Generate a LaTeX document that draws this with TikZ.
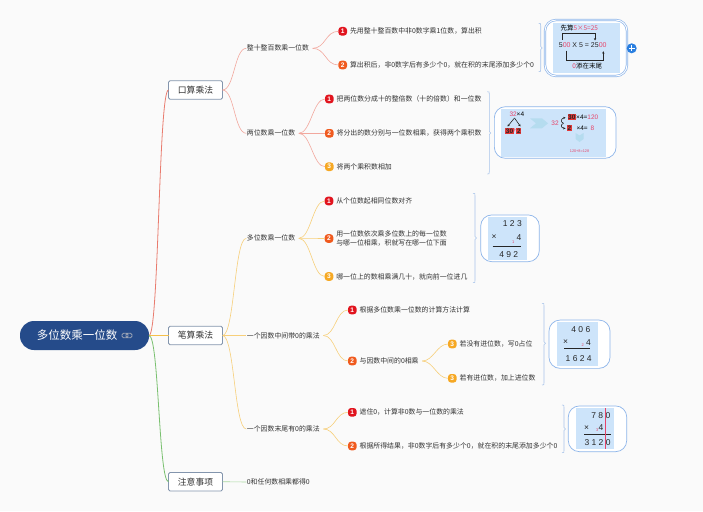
\documentclass[tikz,border=0pt]{standalone}
\usepackage{fontspec}
\setmainfont{Noto Sans CJK SC}
\newfontfamily\numfont{Liberation Sans}
\usetikzlibrary{arrows.meta}
\definecolor{rootblue}{HTML}{254B8A}
\definecolor{txt}{HTML}{333333}
\definecolor{lborder}{HTML}{8395AD}
\definecolor{redA}{HTML}{E97B6E}
\definecolor{redB}{HTML}{F2A89E}
\definecolor{orangeA}{HTML}{F5C04A}
\definecolor{orangeB}{HTML}{F7CF7A}
\definecolor{greenA}{HTML}{79C06F}
\definecolor{greenB}{HTML}{A9D8A0}
\definecolor{bracecol}{HTML}{A8C4EA}
\definecolor{imgborder}{HTML}{8DB5EA}
\definecolor{imgfill}{HTML}{CDE4FA}
\definecolor{pinkred}{HTML}{E6456A}
\definecolor{boxred}{HTML}{E23838}
\definecolor{chev}{HTML}{B5DCEF}
\definecolor{plusblue}{HTML}{2A7FE0}
\definecolor{bone}{HTML}{E1141E}
\definecolor{btwo}{HTML}{F05A1E}
\definecolor{bthree}{HTML}{F6A823}
\definecolor{linkgray}{HTML}{9AA3B5}
\newcommand\cc[4]{\draw[#1] (#2) .. controls +(#4,0) and +(-#4,0) .. (#3);}
\newcommand\itm[6]{%
  \node[badge, fill=#4] (#1) at (#2,#3) {#5};
  \node[lab] (#1t) at ([xshift=2.4pt]#1.east) {#6};}
\newcommand\summbrace[4]{%
  \draw[bracecol, line width=0.6pt] (#1-2,#2) .. controls (#1,#2) .. (#1,#2+2.5) -- (#1,#4-1.5) -- (#1+1.5,#4) -- (#1,#4+1.5) -- (#1,#3-2.5) .. controls (#1,#3) .. (#1-2,#3);}
\begin{document}
\begin{tikzpicture}[x=1pt,y=-1pt,
  every node/.style={inner sep=0pt, outer sep=0pt},
  rootnode/.style={fill=rootblue, rounded corners=14pt, minimum width=129pt, minimum height=29pt, text=white, font=\fontsize{11.5}{13}\selectfont},
  lone/.style={draw=lborder, fill=white, rounded corners=1.5pt, minimum width=54pt, minimum height=18.5pt, line width=0.8pt, text=txt, font=\fontsize{8.8}{10}\selectfont},
  lab/.style={anchor=west, inner sep=0.6pt, text=txt, align=left, font=\fontsize{6.9}{9.8}\selectfont},
  badge/.style={rounded corners=3pt, minimum size=8.6pt, text=white, font=\numfont\bfseries\fontsize{6.6}{7}\selectfont},
  imgbox/.style={draw=imgborder, fill=white, rounded corners=11pt, line width=0.7pt},
  dig/.style={text=black!85, font=\numfont\fontsize{8.5}{9}\selectfont},
  tiny/.style={text=pinkred, font=\numfont\fontsize{4}{4}\selectfont},
  small/.style={font=\fontsize{6.5}{7}\selectfont},
  rbox/.style={fill=boxred, text=black!85, inner sep=0.6pt, font=\numfont\bfseries\fontsize{6.5}{7}\selectfont},
  tip/.style={-{Stealth[length=2.4pt,width=2.4pt]}, line width=0.6pt}
]
\fill[white!98!black] (0,0) rectangle (703,511);
\useasboundingbox (0,0) rectangle (703,511);

% root
\node[rootnode] (root) at (84.5,335.5) {多位数乘一位数\rule{15pt}{0pt}};
\draw[linkgray, line width=0.8pt, rounded corners=1.5pt] (122,333.2) rectangle (128,337.8) (126,333.2) rectangle (132,337.8);

% level 1
\node[lone] (ks) at (195.5,90) {口算乘法};
\node[lone] (bs) at (195.5,335.5) {笔算乘法};
\node[lone] (zy) at (195.5,481.7) {注意事项};

\cc{redA, line width=0.8pt}{root.east}{ks.west}{10}
\draw[orangeA, line width=1.3pt] (root.east) -- (bs.west);
\cc{greenA, line width=0.8pt}{root.east}{zy.west}{10}

% level 2
\node[lab] (zs) at (246.3,48.3) {整十整百数乘一位数};
\node[lab] (lw) at (246.3,133.3) {两位数乘一位数};
\node[lab] (dw) at (246.3,238.3) {多位数乘一位数};
\node[lab] (zj) at (246.3,335.5) {一个因数中间带0的乘法};
\node[lab] (mw) at (246.3,429) {一个因数末尾有0的乘法};
\node[lab] (zyt) at (246.3,482) {0和任何数相乘都得0};

\cc{redB, line width=0.6pt}{ks.east}{zs.west}{12}
\cc{redB, line width=0.6pt}{ks.east}{lw.west}{12}
\cc{orangeB, line width=0.6pt}{bs.east}{dw.west}{12}
\draw[orangeB, line width=0.6pt] (bs.east) -- (zj.west);
\cc{orangeB, line width=0.6pt}{bs.east}{mw.west}{12}
\draw[greenB, line width=0.6pt] (zy.east) -- (zyt.west);

% level 3 items
\itm{ka}{342.7}{31.3}{bone}{1}{先用整十整百数中非0数字乘1位数，算出积}
\itm{kb}{342.7}{65}{btwo}{2}{算出积后，非0数字后有多少个0，就在积的末尾添加多少个0}
\itm{la}{329.3}{99}{bone}{1}{把两位数分成十的整倍数（十的倍数）和一位数}
\itm{lb}{329.3}{133.3}{btwo}{2}{将分出的数分别与一位数相乘，获得两个乘积数}
\itm{lc}{329.3}{166.7}{bthree}{3}{将两个乘积数相加}
\itm{da}{329}{201}{bone}{1}{从个位数起相同位数对齐}
\itm{db}{329}{238.5}{btwo}{2}{用一位数依次乘多位数上的每一位数\\与哪一位相乘，积就写在哪一位下面}
\itm{dc}{329}{276.5}{bthree}{3}{哪一位上的数相乘满几十，就向前一位进几}
\itm{za}{352.3}{310}{bone}{1}{根据多位数乘一位数的计算方法计算}
\itm{zb}{352.3}{361}{btwo}{2}{与因数中间的0相乘}
\itm{zba}{452.3}{344}{bthree}{3}{若没有进位数，写0占位}
\itm{zbb}{452.3}{378.3}{bthree}{3}{若有进位数，加上进位数}
\itm{ma}{352.3}{412.3}{bone}{1}{遮住0，计算非0数与一位数的乘法}
\itm{mb}{352.3}{446}{btwo}{2}{根据所得结果，非0数字后有多少个0，就在积的末尾添加多少个0}

\cc{redB, line width=0.6pt}{[xshift=3pt]zs.east}{ka.west}{13}
\cc{redB, line width=0.6pt}{[xshift=3pt]zs.east}{kb.west}{13}
\cc{redB, line width=0.6pt}{[xshift=3pt]lw.east}{la.west}{12}
\draw[redB, line width=0.6pt] ([xshift=3pt]lw.east) -- (lb.west);
\cc{redB, line width=0.6pt}{[xshift=3pt]lw.east}{lc.west}{12}
\cc{orangeB, line width=0.6pt}{[xshift=3pt]dw.east}{da.west}{12}
\draw[orangeB, line width=0.6pt] ([xshift=3pt]dw.east) -- (db.west);
\cc{orangeB, line width=0.6pt}{[xshift=3pt]dw.east}{dc.west}{12}
\cc{orangeB, line width=0.6pt}{[xshift=3pt]zj.east}{za.west}{12}
\cc{orangeB, line width=0.6pt}{[xshift=3pt]zj.east}{zb.west}{12}
\cc{orangeB, line width=0.6pt}{[xshift=3pt]zbt.east}{zba.west}{11}
\cc{orangeB, line width=0.6pt}{[xshift=3pt]zbt.east}{zbb.west}{11}
\cc{orangeB, line width=0.6pt}{[xshift=3pt]mw.east}{ma.west}{12}
\cc{orangeB, line width=0.6pt}{[xshift=3pt]mw.east}{mb.west}{12}

% summary braces
\summbrace{540.7}{23.3}{71.7}{48}
\summbrace{489.3}{91.7}{174}{133}
\summbrace{475}{193.3}{282.7}{238}
\summbrace{544}{303.3}{385}{343.3}
\summbrace{564}{405}{452.7}{429}

% image 1
\node[imgbox, double=white, double distance=0.9pt, minimum width=82pt, minimum height=56pt] (im1) at (586,48) {};
\fill[imgfill] (553,22.8) rectangle (620,73.3);
\node[small, anchor=west] (im1a) at (560.5,28.3) {先算\textcolor{pinkred}{5×5=25}};
\draw[tip, black!85] (562.3,40) -- (562.3,33.5) -- (595,33.5) -- (595,40.5);
\node[text=black!85, font=\numfont\fontsize{7}{8}\selectfont] (im1b) at (582.7,45.3) {5\textcolor{pinkred}{00} X 5 = 25\textcolor{pinkred}{00}};
\draw[tip, black!85] (566,50.7) -- (566,60.7) -- (603.3,60.7) -- (603.3,51.2);
\node[small] (im1c) at (587.2,66.5) {\textcolor{pinkred}{0}添在末尾};
\node[circle, fill=plusblue, minimum size=10pt] (plus) at (631.7,48.3) {};
\draw[white, line width=1.1pt] (628.9,48.3) -- (634.5,48.3) (631.7,45.5) -- (631.7,51.1);

% image 2
\node[imgbox, minimum width=121.7pt, minimum height=51.6pt] (im2) at (555.2,132.5) {};
\fill[imgfill] (501,108.5) rectangle (606,156.5);
\node[font=\numfont\fontsize{6.5}{7}\selectfont, anchor=west] (im2a) at (509.5,114.3) {\textcolor{pinkred}{32}×4};
\draw[tip, black!85] (514.5,118) -- (507.5,126.5);
\draw[tip, black!85] (514.5,118) -- (520.5,126.5);
\node[rbox] (im2b) at (509.5,131) {30};
\node[font=\numfont\fontsize{6.5}{7}\selectfont, text=pinkred] (im2p) at (514.6,131) {+};
\node[rbox] (im2c) at (518.8,131) {2};
\fill[chev] (530,118.3) -- (542,118.3) -- (548,123.3) -- (542,128.3) -- (530,128.3) -- (536,123.3) -- cycle;
\node[font=\numfont\fontsize{6.5}{7}\selectfont, text=pinkred] (im2d) at (555,123.3) {32};
\draw[tip, black!85] (563.5,123.3) .. controls (560,122) and (561,118.5) .. (565.5,117.5);
\draw[tip, black!85] (563.5,123.3) .. controls (560,124.5) and (561,128) .. (565.5,128.5);
\node[rbox] (im2e) at (571.8,117.3) {30};
\node[font=\numfont\fontsize{6.5}{7}\selectfont, anchor=west] (im2f) at (576.2,117.3) {×4=\textcolor{pinkred}{120}};
\node[rbox] (im2g) at (569.5,128) {2};
\node[font=\numfont\fontsize{6.5}{7}\selectfont, anchor=west] (im2h) at (576.5,128) {×4=\hspace{3pt}\textcolor{pinkred}{8}};
\fill[chev] (575.5,133) -- (579.5,135.5) -- (583.5,133) -- (583.5,139) -- (579.5,142) -- (575.5,139) -- cycle;
\node[font=\numfont\fontsize{3.8}{4}\selectfont, text=pinkred] (im2i) at (579.5,151) {120+8=128};

% image 3
\node[imgbox, minimum width=58.6pt, minimum height=46.7pt] (im3) at (510,238.3) {};
\fill[imgfill] (488.3,217.3) rectangle (527.3,260);
\node[dig] (im3a) at (512.3,223.5) {1 2 3};
\node[dig] (im3b) at (494,237.5) {×};
\node[tiny] (im3c) at (513.3,242) {1};
\node[dig] (im3d) at (519,238) {4};
\draw[black!85, line width=0.7pt] (492.7,246.7) -- (521,246.7);
\node[dig] (im3e) at (508.7,254.7) {4 9 2};

% image 4
\node[imgbox, minimum width=61pt, minimum height=48.3pt] (im4) at (579.5,344.2) {};
\fill[imgfill] (557.3,321.7) rectangle (598.3,366);
\node[dig] (im4a) at (580.8,330) {4 0 6};
\node[dig] (im4b) at (565.7,342.5) {×};
\node[tiny] (im4c) at (582.7,345.3) {2};
\node[dig] (im4d) at (588.5,343) {4};
\draw[black!85, line width=0.7pt] (564,348.3) -- (590,348.3);
\node[dig] (im4e) at (578.7,358.3) {1 6 2 4};

% image 5
\node[imgbox, minimum width=58.4pt, minimum height=45.7pt] (im5) at (597.5,428.8) {};
\fill[imgfill] (576,408.3) rectangle (614,449.3);
\node[dig] (im5a) at (600.8,415.7) {7 8 0};
\node[dig] (im5b) at (586.7,428) {×};
\node[tiny] (im5c) at (597.3,430) {3};
\node[dig] (im5d) at (601,428) {4};
\draw[black!85, line width=0.7pt] (584.3,434) -- (610.7,434);
\node[dig] (im5e) at (597.5,442.3) {3 1 2 0};
\draw[pinkred, line width=0.8pt] (605,408.3) -- (605,449.3);
\end{tikzpicture}
\end{document}
